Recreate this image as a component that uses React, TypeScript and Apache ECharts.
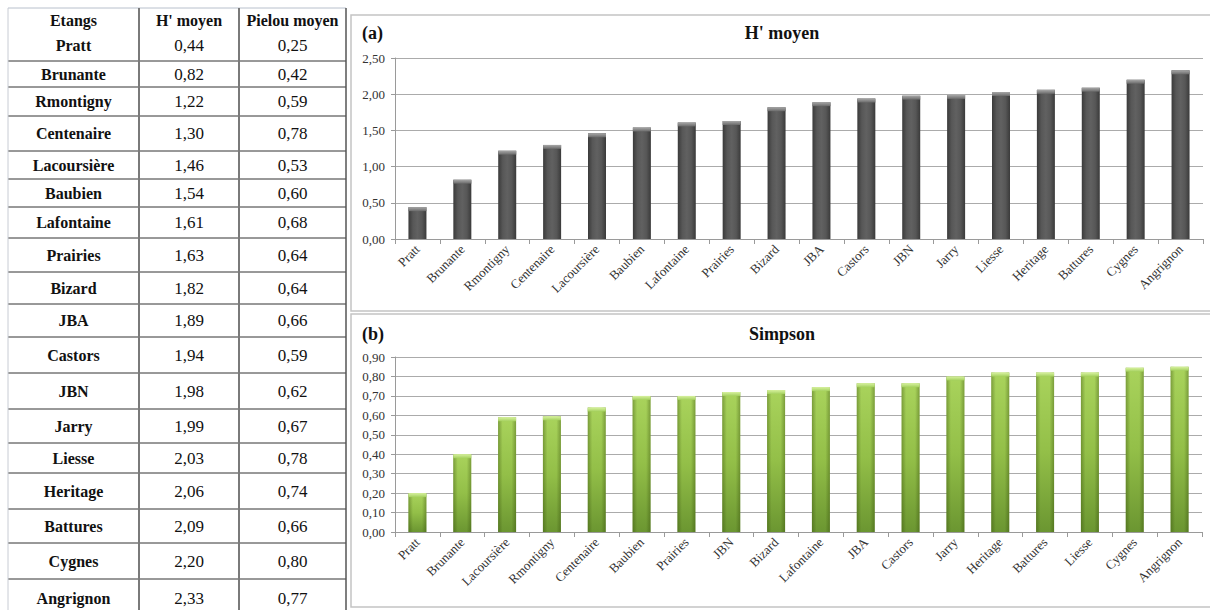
import React, { useEffect, useRef } from "react";
import * as echarts from "echarts";

// Ponds, in the order of the summary table and of chart (a)
const ponds = [
  "Pratt", "Brunante", "Rmontigny", "Centenaire", "Lacoursière", "Baubien",
  "Lafontaine", "Prairies", "Bizard", "JBA", "Castors", "JBN", "Jarry",
  "Liesse", "Heritage", "Battures", "Cygnes", "Angrignon",
];
// Mean Shannon index H' per pond
const hMean = [
  0.44, 0.82, 1.22, 1.30, 1.46, 1.54, 1.61, 1.63, 1.82, 1.89, 1.94, 1.98,
  1.99, 2.03, 2.06, 2.09, 2.20, 2.33,
];
// Mean Pielou evenness per pond
const pielouMean = [
  0.25, 0.42, 0.59, 0.78, 0.53, 0.60, 0.68, 0.64, 0.64, 0.66, 0.59, 0.62,
  0.67, 0.78, 0.74, 0.66, 0.80, 0.77,
];
// Simpson index, sorted in increasing order
const simpsonPonds = [
  "Pratt", "Brunante", "Lacoursière", "Rmontigny", "Centenaire", "Baubien",
  "Prairies", "JBN", "Bizard", "Lafontaine", "JBA", "Castors", "Jarry",
  "Heritage", "Battures", "Liesse", "Cygnes", "Angrignon",
];
const simpsonValues = [
  0.20, 0.40, 0.59, 0.595, 0.64, 0.70, 0.70, 0.72, 0.73, 0.745, 0.765, 0.765,
  0.80, 0.82, 0.82, 0.82, 0.845, 0.85,
];
const tableHeader = ["Etangs", "H' moyen", "Pielou moyen"];

// Table layout (pixels)
const TABLE_X = [8, 139, 239, 346];
const TABLE_TOP = 8;
const HEADER_BOTTOM = 30;
const ROW_EDGES = [
  30, 61, 87, 116, 151, 179, 207, 238, 272, 304, 337, 373, 409, 443, 473,
  509, 543, 579, 617,
];

const SERIF = "Liberation Serif";
const fmt = (v: number) => v.toFixed(2).replace(".", ",");

const txt = (
  text: string,
  x: number,
  y: number,
  size: number,
  bold: boolean,
  align: string = "center",
) => ({
  type: "text",
  x,
  y,
  style: {
    text,
    fontFamily: SERIF,
    fontSize: size,
    fontWeight: bold ? "bold" : "normal",
    fill: "#111",
    align,
    verticalAlign: "middle",
  },
});

function buildTable(): any[] {
  const els: any[] = [];
  const colCenter = (i: number) => (TABLE_X[i] + TABLE_X[i + 1]) / 2;
  tableHeader.forEach((h, i) => {
    els.push(txt(h, colCenter(i), (TABLE_TOP + HEADER_BOTTOM) / 2 + 1, 16, true));
  });
  ponds.forEach((p, r) => {
    const yc = (ROW_EDGES[r] + ROW_EDGES[r + 1]) / 2;
    els.push(txt(p, colCenter(0), yc, 16, true));
    els.push(txt(fmt(hMean[r]), colCenter(1), yc, 17, false));
    els.push(txt(fmt(pielouMean[r]), colCenter(2), yc, 17, false));
  });
  els.push({
    type: "line",
    shape: { x1: TABLE_X[0], y1: TABLE_TOP, x2: TABLE_X[3], y2: TABLE_TOP },
    style: { stroke: "#b8c0cc", lineWidth: 1 },
  });
  ROW_EDGES.slice(1, -1).forEach((y) => {
    els.push({
      type: "line",
      shape: { x1: TABLE_X[0], y1: y, x2: TABLE_X[3], y2: y },
      style: { stroke: "#333", lineWidth: 1 },
    });
  });
  els.push({
    type: "line",
    shape: { x1: TABLE_X[0], y1: TABLE_TOP, x2: TABLE_X[0], y2: 610 },
    style: { stroke: "#c8ccd4", lineWidth: 1 },
  });
  [TABLE_X[1], TABLE_X[2]].forEach((x) => {
    els.push({
      type: "line",
      shape: { x1: x, y1: TABLE_TOP, x2: x, y2: 610 },
      style: { stroke: "#7a7a7a", lineWidth: 2 },
    });
  });
  els.push({
    type: "line",
    shape: { x1: TABLE_X[3], y1: TABLE_TOP, x2: TABLE_X[3], y2: 610 },
    style: { stroke: "#555", lineWidth: 1.5 },
  });
  return els;
}

function panelDecor(): any[] {
  const els: any[] = [];
  const panels = [
    { y: 15, h: 296, tag: "(a)", title: "H' moyen", ty: 33 },
    { y: 314, h: 293, tag: "(b)", title: "Simpson", ty: 334 },
  ];
  panels.forEach((p) => {
    els.push({
      type: "rect",
      shape: { x: 351, y: p.y, width: 870, height: p.h },
      style: { fill: "transparent", stroke: "#c4c4c4", lineWidth: 1.5 },
    });
    els.push(txt(p.tag, 362, p.ty, 18, true, "left"));
    els.push(txt(p.title, 782, p.ty, 18, true, "center"));
  });
  return els;
}

const grad = (x2: number, y2: number, stops: [number, string][]) =>
  new echarts.graphic.LinearGradient(
    0, 0, x2, y2,
    stops.map(([offset, color]) => ({ offset, color })),
  );

function xAxisCfg(gridIndex: number, data: string[]) {
  return {
    type: "category",
    gridIndex,
    data,
    axisLine: { lineStyle: { color: "#9a9a9a", width: 1 } },
    axisTick: { show: true, length: 5, lineStyle: { color: "#9a9a9a" } },
    axisLabel: {
      interval: 0,
      rotate: 45,
      margin: 8,
      fontFamily: SERIF,
      fontSize: 13,
      color: "#333",
    },
  };
}

function yAxisCfg(gridIndex: number, max: number, interval: number) {
  return {
    type: "value",
    gridIndex,
    min: 0,
    max,
    interval,
    axisLine: { show: true, lineStyle: { color: "#9a9a9a", width: 1 } },
    axisTick: { show: true, length: 4, lineStyle: { color: "#9a9a9a" } },
    splitLine: { lineStyle: { color: "#ababab", width: 1 } },
    axisLabel: {
      margin: 10,
      fontFamily: SERIF,
      fontSize: 13,
      color: "#333",
      formatter: (v: number) => fmt(v),
    },
  };
}

export default function App() {
  const ref = useRef<HTMLDivElement>(null);

  useEffect(() => {
    if (!ref.current) return;
    const chart = echarts.init(ref.current, undefined, { renderer: "svg" });

    const greyBody = grad(1, 0, [
      [0, "#3a3a3a"],
      [0.25, "#575757"],
      [0.5, "#616161"],
      [0.75, "#575757"],
      [1, "#3a3a3a"],
    ]);
    const greyCap = grad(0, 1, [
      [0, "#a8a8a8"],
      [1, "#6a6a6a"],
    ]);
    const greenBody = grad(0, 1, [
      [0, "#a9d35c"],
      [0.5, "#93bf48"],
      [1, "#6b9631"],
    ]);
    const greenEdge = grad(1, 0, [
      [0, "rgba(40,60,0,0.35)"],
      [0.25, "rgba(40,60,0,0)"],
      [0.75, "rgba(40,60,0,0)"],
      [1, "rgba(40,60,0,0.35)"],
    ]);
    const greenCap = grad(0, 1, [
      [0, "#d8f2a0"],
      [1, "#a4d05e"],
    ]);

    chart.setOption({
      animation: false,
      backgroundColor: "#fff",
      textStyle: { fontFamily: SERIF },
      grid: [
        { left: 395, top: 58, width: 808, height: 181 },
        { left: 395, top: 357, width: 807, height: 175 },
      ],
      xAxis: [xAxisCfg(0, ponds), xAxisCfg(1, simpsonPonds)],
      yAxis: [yAxisCfg(0, 2.5, 0.5), yAxisCfg(1, 0.9, 0.1)],
      series: [
        {
          type: "bar",
          xAxisIndex: 0,
          yAxisIndex: 0,
          data: hMean,
          barWidth: 18,
          itemStyle: { color: greyBody },
          silent: true,
        },
        {
          type: "pictorialBar",
          xAxisIndex: 0,
          yAxisIndex: 0,
          data: hMean,
          symbol: "rect",
          symbolSize: [18, 4],
          symbolPosition: "end",
          itemStyle: { color: greyCap },
          z: 3,
          silent: true,
        },
        {
          type: "bar",
          xAxisIndex: 1,
          yAxisIndex: 1,
          data: simpsonValues,
          barWidth: 18,
          itemStyle: { color: greenBody },
          silent: true,
        },
        {
          type: "bar",
          xAxisIndex: 1,
          yAxisIndex: 1,
          data: simpsonValues,
          barWidth: 18,
          barGap: "-100%",
          itemStyle: { color: greenEdge },
          silent: true,
        },
        {
          type: "pictorialBar",
          xAxisIndex: 1,
          yAxisIndex: 1,
          data: simpsonValues,
          symbol: "rect",
          symbolSize: [18, 4],
          symbolPosition: "end",
          itemStyle: { color: greenCap },
          z: 3,
          silent: true,
        },
      ],
      graphic: [...buildTable(), ...panelDecor()],
    });

    return () => chart.dispose();
  }, []);

  return (
    <div
      ref={ref}
      style={{
        position: "fixed",
        left: 0,
        top: 0,
        width: 1210,
        height: 610,
        background: "#fff",
      }}
    />
  );
}
